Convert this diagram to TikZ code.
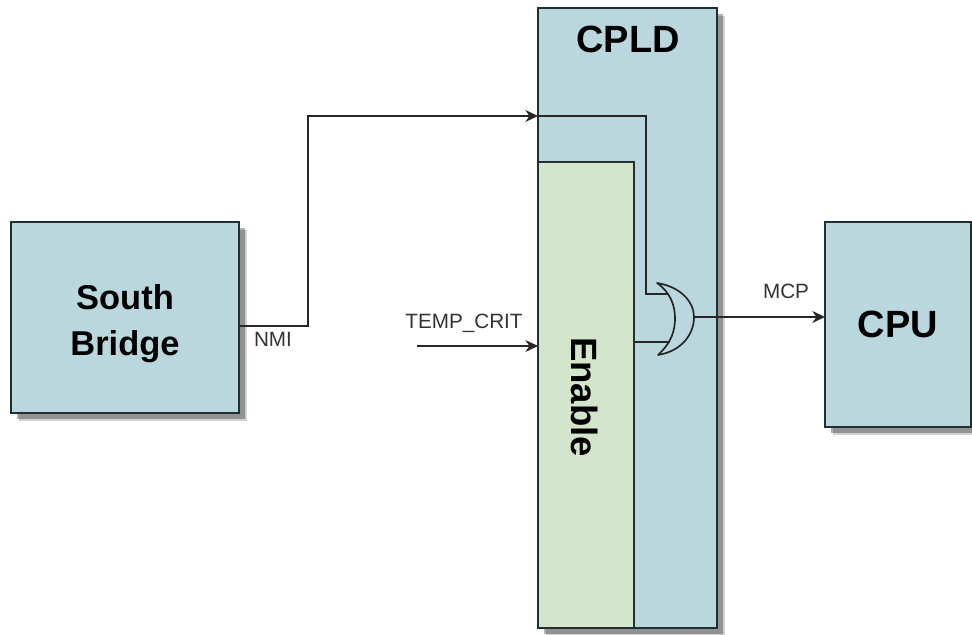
\documentclass[tikz,border=0pt]{standalone}
\usepackage{fontspec}
\setmainfont{Liberation Sans}
\usetikzlibrary{arrows.meta, shadows}
\definecolor{boxblue}{RGB}{186,215,221}
\definecolor{boxgreen}{RGB}{211,229,203}
\definecolor{linedark}{RGB}{32,48,50}

\begin{document}
\begin{tikzpicture}[
    x=0.025cm, y=-0.025cm,
    block/.style={draw=linedark, line width=1.3pt, fill=boxblue, inner sep=0pt,
                  font=\fontsize{27}{33}\selectfont\bfseries},
    blocktitle/.style={block, draw=none, fill=none},
    shadowed/.style={
      drop shadow={shadow xshift=0.19cm, shadow yshift=-0.19cm, fill=black, opacity=0.18},
      drop shadow={shadow xshift=0.14cm, shadow yshift=-0.14cm, fill=black, opacity=0.3}},
    sig/.style={font=\fontsize{14.7}{17}\selectfont, text=black!80},
    wire/.style={draw=black!85, line width=1pt},
    >={Stealth[length=9pt, width=8.5pt]}
  ]
  \useasboundingbox (0,0) rectangle (972,635);

  % Blocks
  \node[block, shadowed, minimum width=5.7cm, minimum height=4.775cm] (south) at (125,317.5) {};
  \node[blocktitle, align=center, font=\fontsize{24.5}{32.7}\selectfont\bfseries]
    (southtitle) at (125,323.5) {South\\Bridge};
  \node[block, shadowed, minimum width=4.475cm, minimum height=15.5cm] (cpld) at (627.5,318) {};
  \node[blocktitle] (cpldtitle) at (628,39) {CPLD};
  \node[block, fill=boxgreen, minimum width=2.4cm, minimum height=11.65cm] (enable) at (586,395) {};
  \node[blocktitle, rotate=-90, font=\fontsize{26}{32}\selectfont\bfseries]
    (enabletitle) at (585,397) {Enable};
  \node[block, shadowed, minimum width=3.65cm, minimum height=5.125cm] (cpu) at (898,324.5) {CPU};

  % Gate
  \coordinate (ortop) at (657,283);
  \coordinate (orbot) at (658,355);
  \coordinate (orout) at (694,317);
  \coordinate (orina) at (668,294);
  \coordinate (orinb) at (670,342);
  \draw[wire, line width=1.2pt, fill=boxblue, line join=round]
    (ortop) .. controls (682,287) and (694,303) .. (orout)
    .. controls (694,334) and (682,351) .. (orbot)
    .. controls (672,342) and (675,330) .. (675,318)
    .. controls (675,305) and (670,292) .. (ortop) -- cycle;

  % Signals
  \coordinate (turnup) at (308,326);
  \coordinate (turntop) at (308,116);
  \coordinate (nmihit) at (538,116);
  \coordinate (turndown) at (646,116);
  \coordinate (turnin) at (646,294);
  \coordinate (tempstart) at (417,346);
  \coordinate (tempend) at (538,346);
  \coordinate (enableout) at (634,342);
  \coordinate (cpuin) at (825,317);

  \draw[wire, ->] (south.east |- turnup) -- (turnup) -- (turntop) -- (nmihit);
  \draw[wire] (nmihit) -- (turndown) -- (turnin) -- (orina);
  \draw[wire, ->] (tempstart) -- (tempend);
  \draw[wire] (enableout) -- (orinb);
  \draw[wire, ->] (orout) -- (cpuin);

  % Labels
  \node[sig] (nmilabel) at (273,339) {NMI};
  \node[sig] (templabel) at (464,323) {TEMP\_CRIT};
  \node[sig] (mcplabel) at (786,291) {MCP};
\end{tikzpicture}
\end{document}
